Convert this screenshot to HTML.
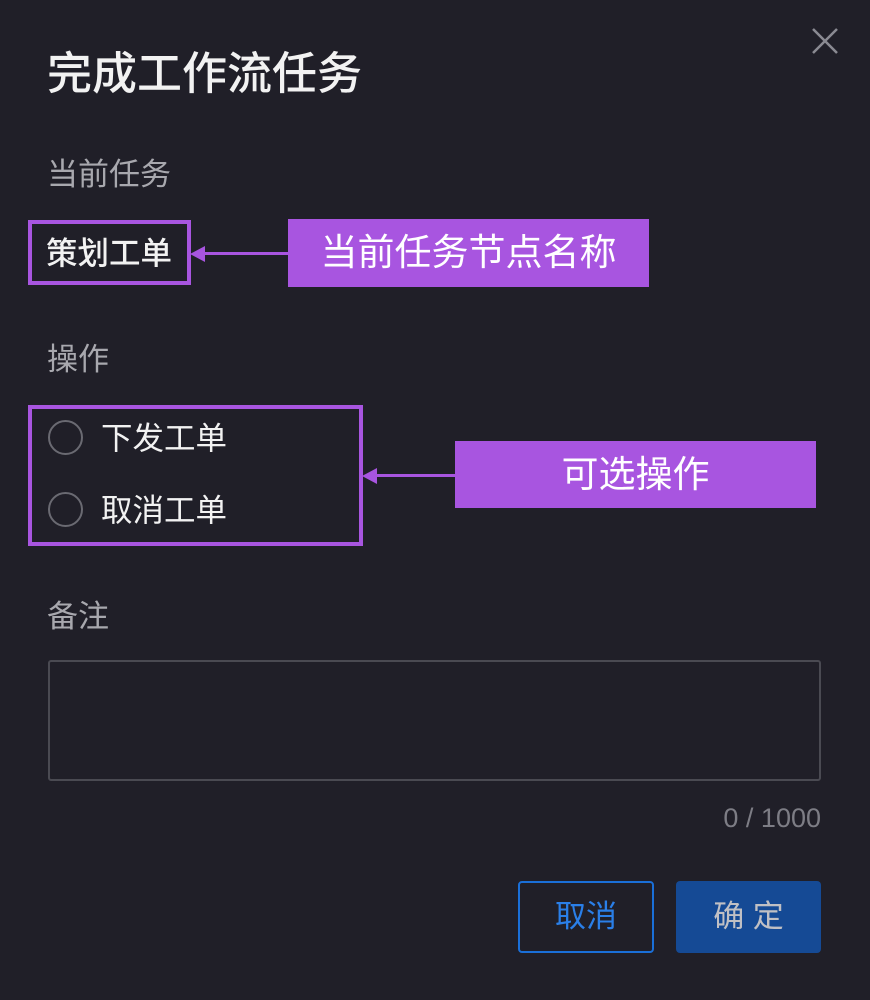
<!DOCTYPE html>
<html><head><meta charset="utf-8"><style>
html,body{margin:0;padding:0}
body{width:870px;height:1000px;background:#201f28;position:relative;overflow:hidden;font-family:"Liberation Sans","Noto Sans CJK SC",sans-serif}
.a{position:absolute;white-space:nowrap}
</style></head><body>
<svg class="a" style="left:810px;top:26px" width="30" height="30"><path d="M3 3L27 27M27 3L3 27" stroke="#8a8a92" stroke-width="2.5"/></svg>
<div class="a" style="left:47px;top:46px;font-size:45px;color:#f2f2f2;line-height:56px;font-weight:500">完成工作流任务</div>
<div class="a" style="left:47px;top:155px;font-size:31px;color:#a8a8ae;line-height:40px">当前任务</div>
<div class="a" style="left:28px;top:220px;width:155px;height:57px;border:4px solid #a855e0"></div>
<div class="a" style="left:46px;top:232px;font-size:31.5px;color:#f2f2f2;line-height:42px;font-weight:500">策划工单</div>
<div class="a" style="left:200px;top:252px;width:90px;height:3px;background:#a855e0"></div>
<svg class="a" style="left:190px;top:245px" width="16" height="18"><path d="M0 9L15 1V17Z" fill="#a855e0"/></svg>
<div class="a" style="left:288px;top:219px;width:361px;height:68px;background:#a855e0;color:#fff;font-size:37px;line-height:68px;text-align:center">当前任务节点名称</div>
<div class="a" style="left:47px;top:340px;font-size:31px;color:#a8a8ae;line-height:40px">操作</div>
<div class="a" style="left:28px;top:405px;width:327px;height:133px;border:4px solid #a855e0"></div>
<div class="a" style="left:48px;top:420px;width:35px;height:35px;border:2px solid #6a6a72;border-radius:50%;box-sizing:border-box"></div>
<div class="a" style="left:48px;top:492px;width:35px;height:35px;border:2px solid #6a6a72;border-radius:50%;box-sizing:border-box"></div>
<div class="a" style="left:101px;top:417px;font-size:31.5px;color:#f2f2f2;line-height:42px">下发工单</div>
<div class="a" style="left:101px;top:489px;font-size:31.5px;color:#f2f2f2;line-height:42px">取消工单</div>
<div class="a" style="left:372px;top:474px;width:85px;height:3px;background:#a855e0"></div>
<svg class="a" style="left:362px;top:467px" width="16" height="18"><path d="M0 9L15 1V17Z" fill="#a855e0"/></svg>
<div class="a" style="left:455px;top:441px;width:361px;height:67px;background:#a855e0;color:#fff;font-size:37px;line-height:67px;text-align:center">可选操作</div>
<div class="a" style="left:47px;top:597px;font-size:31px;color:#a8a8ae;line-height:40px">备注</div>
<div class="a" style="left:48px;top:660px;width:773px;height:121px;border:2px solid #4a4a52;border-radius:3px;box-sizing:border-box"></div>
<div class="a" style="left:571px;top:801px;width:250px;text-align:right;font-size:27px;color:#7d7d85;line-height:34px">0 / 1000</div>
<div class="a" style="left:518px;top:881px;width:136px;height:72px;border:2px solid #1a6fd8;border-radius:4px;box-sizing:border-box;color:#2a7fe8;font-size:31px;line-height:68px;text-align:center">取消</div>
<div class="a" style="left:676px;top:881px;width:145px;height:72px;background:#154a95;border-radius:4px;color:#c0c0c4;font-size:31px;line-height:72px;text-align:center">确 定</div>
</body></html>
